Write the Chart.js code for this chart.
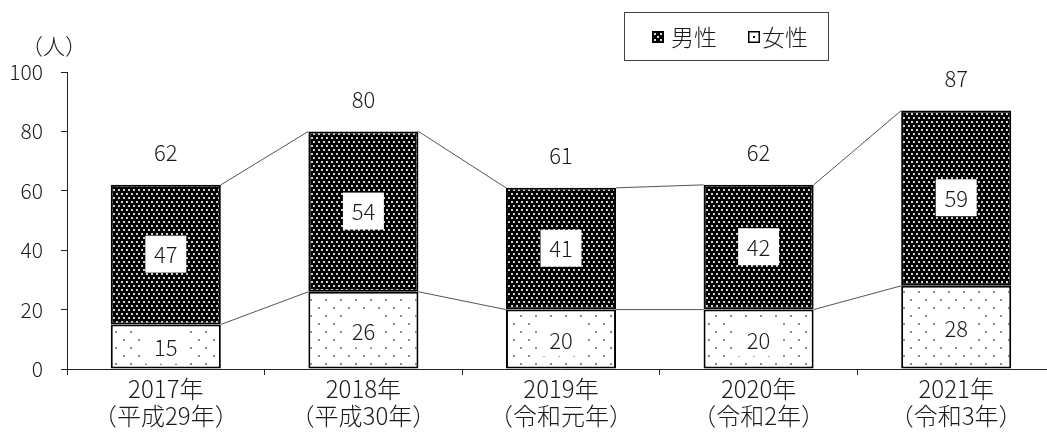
<!DOCTYPE html>
<html>
<head>
<meta charset="utf-8">
<script src="https://cdn.jsdelivr.net/npm/chart.js@4.4.1/dist/chart.umd.min.js"></script>
<style>
  html, body { margin: 0; padding: 0; background: #fff; overflow: hidden; }
  #wrap { width: 1055px; height: 442px; }
</style>
</head>
<body>
<div id="wrap"><canvas id="c" width="1055" height="442"></canvas></div>
<script>
const years = ["2017年", "2018年", "2019年", "2020年", "2021年"];
const eras = ["（平成29年）", "（平成30年）", "（令和元年）", "（令和2年）", "（令和3年）"];
const male = [47, 54, 41, 42, 59];
const female = [15, 26, 20, 20, 28];
const totals = [62, 80, 61, 62, 87];
const yTicks = [0, 20, 40, 60, 80, 100];
const seriesNames = ["男性", "女性"];
const yUnit = "（人）";

const FONT = "'Noto Sans CJK JP', 'Noto Sans', sans-serif";
const W = "300";
const TEXT = "#1a1a1a";

function makePattern(w, h, bg, dots, dotColor, ds) {
  const c = document.createElement('canvas');
  c.width = w; c.height = h;
  const g = c.getContext('2d');
  g.fillStyle = bg; g.fillRect(0, 0, w, h);
  g.fillStyle = dotColor;
  dots.forEach(([x, y]) => g.fillRect(x, y, ds, ds));
  return g.createPattern(c, 'repeat');
}
const ctx0 = document.getElementById('c').getContext('2d');
const malePattern = makePattern(10, 8, '#000', [[1,1],[6,1],[3,5],[8,5]], '#d0d0d0', 2);
const femalePattern = makePattern(15, 16, '#fff', [[3,3],[10,11]], '#8a8a8a', 2);

const labels = years.map((y, i) => [y, eras[i]]);

const decorPlugin = {
  id: 'decor',
  beforeDatasetsDraw(chart) {
    const ctx = chart.ctx;
    const ys = chart.scales.y;
    const mF = chart.getDatasetMeta(0).data;
    ctx.save();
    ctx.strokeStyle = '#555';
    ctx.lineWidth = 1;
    [female, totals].forEach(arr => {
      for (let i = 0; i < arr.length - 1; i++) {
        const a = mF[i], b = mF[i + 1];
        ctx.beginPath();
        ctx.moveTo(a.x + a.width / 2, ys.getPixelForValue(arr[i]));
        ctx.lineTo(b.x - b.width / 2, ys.getPixelForValue(arr[i + 1]));
        ctx.stroke();
      }
    });
    ctx.restore();
  },
  afterDatasetsDraw(chart) {
    const ctx = chart.ctx;
    const ys = chart.scales.y;
    const mF = chart.getDatasetMeta(0).data;
    ctx.save();
    ctx.textAlign = 'center';
    ctx.textBaseline = 'middle';
    ctx.font = W + " 22px " + FONT;
    for (let i = 0; i < male.length; i++) {
      const x = mF[i].x;
      const fy = (ys.getPixelForValue(0) + ys.getPixelForValue(female[i])) / 2;
      ctx.fillStyle = '#fff';
      ctx.fillRect(x - 21, fy - 17, 42, 34);
      ctx.fillStyle = TEXT;
      ctx.fillText(String(female[i]), x, fy + 1);
      const my = (ys.getPixelForValue(female[i]) + ys.getPixelForValue(female[i] + male[i])) / 2;
      ctx.fillStyle = '#fff';
      ctx.fillRect(x - 20.5, my - 19, 41, 37);
      ctx.fillStyle = TEXT;
      ctx.fillText(String(male[i]), x, my);
      ctx.fillText(String(totals[i]), x, ys.getPixelForValue(totals[i]) - 32);
    }
    ctx.restore();
  },
  afterDraw(chart) {
    const ctx = chart.ctx;
    ctx.save();
    ctx.fillStyle = TEXT;
    ctx.font = W + " 22px " + FONT;
    ctx.textAlign = 'center';
    ctx.textBaseline = 'middle';
    ctx.fillText(yUnit, 54, 46);
    ctx.strokeStyle = '#444';
    ctx.lineWidth = 1;
    ctx.strokeRect(624.5, 12.5, 204, 48);
    ctx.fillStyle = '#000';
    ctx.fillRect(652, 31, 12, 12);
    ctx.fillStyle = '#d8d8d8';
    [[2,2],[8,2],[5,5],[2,8],[8,8]].forEach(([dx, dy]) => ctx.fillRect(652 + dx, 31 + dy, 2, 2));
    ctx.fillStyle = '#fff';
    ctx.fillRect(748, 31, 12, 12);
    ctx.strokeStyle = '#000';
    ctx.lineWidth = 1.5;
    ctx.strokeRect(748.75, 31.75, 10.5, 10.5);
    ctx.fillStyle = '#000';
    ctx.fillRect(753, 36, 2, 2);
    ctx.fillStyle = TEXT;
    ctx.font = W + " 23px " + FONT;
    ctx.textAlign = 'left';
    ctx.fillText(seriesNames[0], 671, 37);
    ctx.fillText(seriesNames[1], 762, 37);
    ctx.restore();
  }
};

new Chart(ctx0, {
  type: 'bar',
  data: {
    labels: labels,
    datasets: [
      { label: seriesNames[1], data: female, backgroundColor: femalePattern, borderColor: '#000', borderWidth: 2, borderSkipped: false },
      { label: seriesNames[0], data: male, backgroundColor: malePattern, borderColor: '#000', borderWidth: 2, borderSkipped: false }
    ]
  },
  options: {
    responsive: false,
    animation: false,
    devicePixelRatio: 1,
    layout: { padding: { top: 72, left: 0, right: 0, bottom: 0 } },
    datasets: { bar: { barPercentage: 0.557, categoryPercentage: 1 } },
    plugins: { legend: { display: false }, tooltip: { enabled: false } },
    scales: {
      x: {
        stacked: true,
        grid: { display: true, offset: true, drawOnChartArea: false, drawTicks: true, tickLength: 6, color: '#222' },
        border: { display: true, color: '#222', width: 1 },
        ticks: { color: TEXT, padding: 0, maxRotation: 0, autoSkip: false, font: { family: FONT, size: 24, weight: W, lineHeight: 1.125 } },
        afterFit(s) { s.height = 73; }
      },
      y: {
        stacked: true,
        min: yTicks[0],
        max: yTicks[yTicks.length - 1],
        afterBuildTicks(s) { s.ticks = yTicks.map(v => ({ value: v })); },
        grid: { display: true, drawOnChartArea: false, drawTicks: true, tickLength: 6, color: '#222' },
        border: { display: true, color: '#222', width: 1 },
        ticks: { color: TEXT, padding: 18, font: { family: FONT, size: 21, weight: W } },
        afterFit(s) { s.width = 67; }
      }
    }
  },
  plugins: [decorPlugin]
});
</script>
</body>
</html>
